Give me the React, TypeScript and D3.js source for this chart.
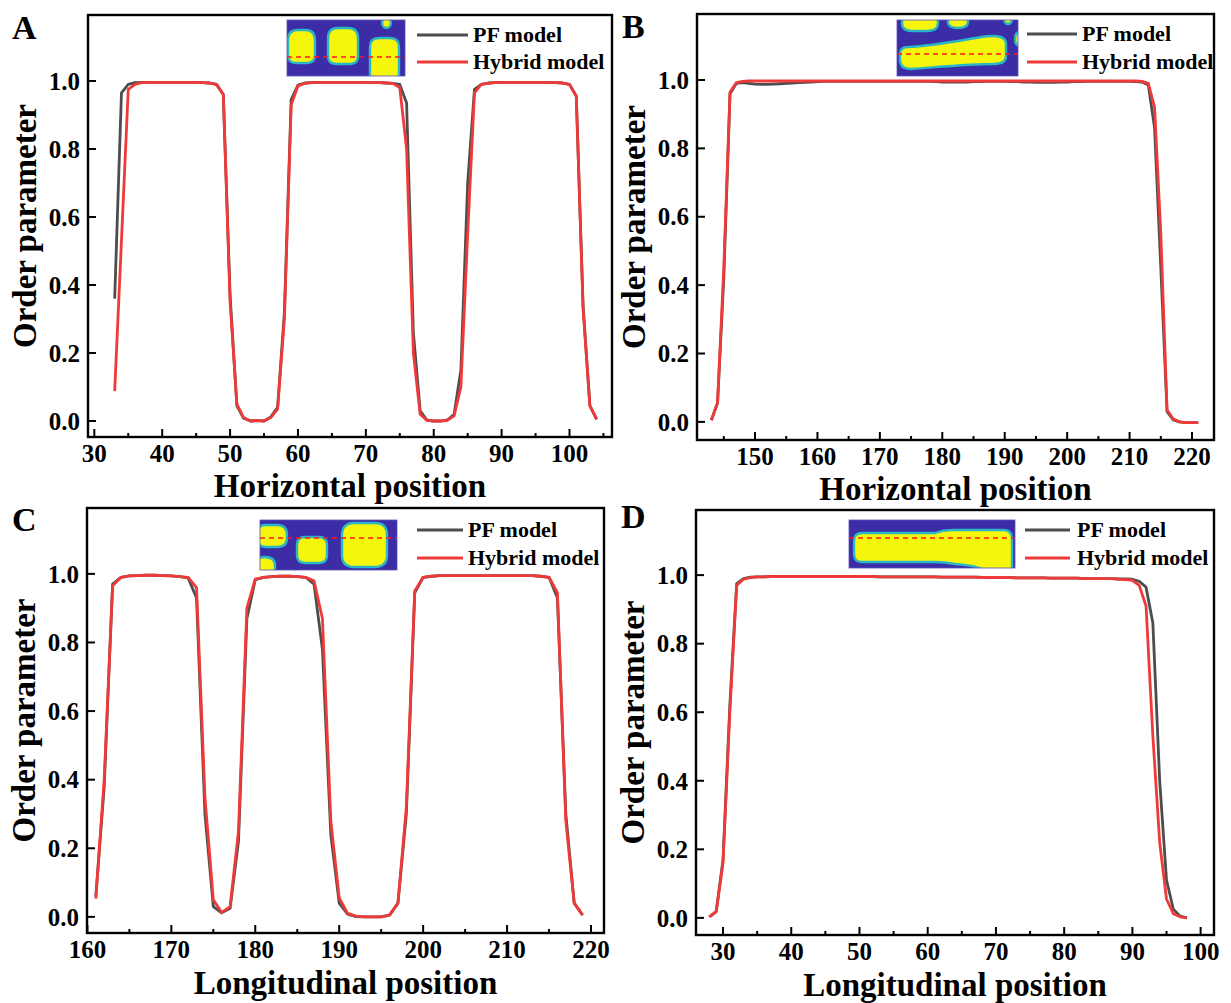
import React from "react";
import * as d3 from "d3";

// ---------------- DATA ----------------
const A_X0 = 33;
const A_PF = [
  0.36, 0.965, 0.99, 0.995, 0.996, 0.996, 0.996, 0.996, 0.996, 0.996,
  0.996, 0.996, 0.996, 0.995, 0.994, 0.99, 0.96, 0.37, 0.045, 0.008,
  0.0, 0.001, 0.0, 0.012, 0.04, 0.32, 0.945, 0.988, 0.994, 0.995,
  0.996, 0.996, 0.996, 0.996, 0.996, 0.996, 0.996, 0.996, 0.995, 0.995,
  0.994, 0.993, 0.99, 0.935, 0.26, 0.03, 0.003, 0.0, 0.0, 0.003,
  0.02, 0.15, 0.7, 0.975, 0.99, 0.994, 0.995, 0.996, 0.996, 0.996,
  0.996, 0.996, 0.996, 0.996, 0.995, 0.995, 0.994, 0.99, 0.955, 0.34,
  0.045, 0.005,
];
const A_HY = [
  0.088, 0.53, 0.975, 0.99, 0.995, 0.996, 0.996, 0.996, 0.996, 0.996,
  0.996, 0.996, 0.996, 0.995, 0.994, 0.99, 0.96, 0.35, 0.05, 0.01,
  0.0, 0.002, 0.0, 0.01, 0.035, 0.3, 0.93, 0.985, 0.993, 0.995,
  0.996, 0.996, 0.996, 0.996, 0.996, 0.996, 0.996, 0.996, 0.995, 0.995,
  0.994, 0.993, 0.98, 0.8, 0.2, 0.02, 0.002, 0.0, 0.0, 0.002,
  0.015, 0.1, 0.55, 0.965, 0.99, 0.993, 0.995, 0.996, 0.996, 0.996,
  0.996, 0.996, 0.996, 0.996, 0.995, 0.995, 0.994, 0.99, 0.955, 0.33,
  0.045, 0.005,
];

const B_X0 = 143;
const B_PF = [
  0.005, 0.055, 0.42, 0.96, 0.99, 0.992, 0.99, 0.988, 0.987, 0.987,
  0.988, 0.989, 0.99, 0.991, 0.992, 0.993, 0.994, 0.995, 0.996, 0.996,
  0.996, 0.996, 0.996, 0.996, 0.996, 0.996, 0.996, 0.996, 0.996, 0.996,
  0.996, 0.996, 0.996, 0.996, 0.996, 0.996, 0.995, 0.994, 0.994, 0.994,
  0.994, 0.994, 0.995, 0.995, 0.996, 0.996, 0.996, 0.996, 0.995, 0.995,
  0.994, 0.994, 0.993, 0.993, 0.993, 0.993, 0.994, 0.994, 0.995, 0.995,
  0.996, 0.996, 0.996, 0.996, 0.996, 0.996, 0.996, 0.996, 0.995, 0.994,
  0.985, 0.86, 0.45, 0.03, 0.006, 0.0, -0.002, -0.002, -0.002,
];
const B_HY = [
  0.005, 0.055, 0.45, 0.965, 0.992, 0.996, 0.997, 0.997, 0.997, 0.997,
  0.997, 0.997, 0.997, 0.997, 0.997, 0.997, 0.997, 0.997, 0.997, 0.997,
  0.997, 0.997, 0.997, 0.997, 0.997, 0.997, 0.997, 0.997, 0.997, 0.997,
  0.997, 0.997, 0.997, 0.997, 0.997, 0.997, 0.997, 0.997, 0.997, 0.997,
  0.997, 0.997, 0.997, 0.997, 0.997, 0.997, 0.997, 0.997, 0.997, 0.997,
  0.997, 0.997, 0.997, 0.997, 0.997, 0.997, 0.997, 0.997, 0.997, 0.997,
  0.997, 0.997, 0.997, 0.997, 0.997, 0.997, 0.997, 0.997, 0.997, 0.996,
  0.99, 0.92, 0.55, 0.035, 0.008, 0.0, -0.002, -0.002, -0.002,
];

const C_X0 = 161;
const C_PF = [
  0.06, 0.38, 0.97, 0.99, 0.994, 0.995, 0.996, 0.996, 0.995, 0.994,
  0.992, 0.988, 0.93, 0.3, 0.03, 0.012, 0.025, 0.22, 0.87, 0.983,
  0.99, 0.992, 0.993, 0.993, 0.992, 0.99, 0.97, 0.78, 0.24, 0.04,
  0.008, 0.001, 0.0, 0.0, 0.0, 0.005, 0.04, 0.3, 0.945, 0.99,
  0.993, 0.995, 0.995, 0.995, 0.995, 0.995, 0.995, 0.995, 0.995, 0.995,
  0.995, 0.995, 0.995, 0.993, 0.99, 0.93, 0.3, 0.04, 0.005,
];
const C_HY = [
  0.053, 0.4, 0.965, 0.99, 0.994, 0.995, 0.996, 0.996, 0.995, 0.994,
  0.992, 0.99, 0.96, 0.35, 0.05, 0.013, 0.03, 0.25, 0.9, 0.985,
  0.99, 0.992, 0.993, 0.993, 0.992, 0.99, 0.98, 0.87, 0.28, 0.055,
  0.01, 0.002, 0.0, 0.0, 0.0, 0.005, 0.04, 0.32, 0.95, 0.99,
  0.993, 0.995, 0.995, 0.995, 0.995, 0.995, 0.995, 0.995, 0.995, 0.995,
  0.995, 0.995, 0.995, 0.993, 0.99, 0.945, 0.28, 0.04, 0.005,
];

const D_X0 = 28;
const D_PF = [
  0.003, 0.018, 0.17, 0.62, 0.975, 0.99, 0.994, 0.995, 0.995, 0.996,
  0.996, 0.996, 0.996, 0.996, 0.996, 0.996, 0.996, 0.996, 0.996, 0.996,
  0.996, 0.996, 0.996, 0.996, 0.996, 0.995, 0.995, 0.995, 0.995, 0.995,
  0.995, 0.995, 0.995, 0.995, 0.994, 0.994, 0.994, 0.994, 0.994, 0.994,
  0.993, 0.993, 0.993, 0.993, 0.993, 0.992, 0.992, 0.992, 0.992, 0.992,
  0.991, 0.991, 0.991, 0.991, 0.991, 0.99, 0.99, 0.99, 0.99, 0.99,
  0.989, 0.989, 0.988, 0.982, 0.965, 0.86, 0.4, 0.11, 0.025, 0.005, 0.0,
];
const D_HY = [
  0.003, 0.018, 0.16, 0.6, 0.97, 0.988, 0.993, 0.995, 0.995, 0.996,
  0.996, 0.996, 0.996, 0.996, 0.996, 0.996, 0.996, 0.996, 0.996, 0.996,
  0.996, 0.996, 0.996, 0.996, 0.996, 0.995, 0.995, 0.995, 0.995, 0.995,
  0.995, 0.995, 0.995, 0.995, 0.994, 0.994, 0.994, 0.994, 0.994, 0.994,
  0.993, 0.993, 0.993, 0.993, 0.993, 0.992, 0.992, 0.992, 0.992, 0.992,
  0.991, 0.991, 0.991, 0.991, 0.991, 0.99, 0.99, 0.99, 0.99, 0.99,
  0.988, 0.987, 0.985, 0.97, 0.91, 0.53, 0.22, 0.055, 0.012, 0.003, 0.0,
];

const Y_TICKS = [0.0, 0.2, 0.4, 0.6, 0.8, 1.0];
const A_TICKS = [30, 40, 50, 60, 70, 80, 90, 100];
const B_TICKS = [150, 160, 170, 180, 190, 200, 210, 220];
const C_TICKS = [160, 170, 180, 190, 200, 210, 220];
const D_TICKS = [30, 40, 50, 60, 70, 80, 90, 100];
const SERIES_NAMES = ["PF model", "Hybrid model"];

// ---------------- LAYOUT ----------------
const FONT = "'Liberation Serif', 'Times New Roman', serif";
const GRAY = "#4d4d4d";
const RED = "#f03a3a";
const BG = "#3c2da6";
const YEL = "#f6f60c";
const EDGE = "#2ab6c6";
const TICK_FS = 25;

type Blob = { d: string };

const panels = [
  {
    letter: "A", lx: 12, ly: 39,
    frame: { l: 88, r: 612, t: 15, b: 437 },
    xd: [29.07, 106.26], yd: [-0.047, 1.194],
    ticks: A_TICKS, minorStep: 5,
    x0: A_X0, pf: A_PF, hy: A_HY,
    title: "Horizontal position", titleY: 497,
    legend: { x1: 417, x2: 468, tx: 473, y1: 35, y2: 62 },
    inset: {
      x: 287, y: 20, w: 118, h: 56, dash: 37,
      blobs: [
        { d: "M1,20 Q1,10 11,10 L18,10 Q28,10 28,20 L28,35 Q28,43 20,43 L9,43 Q1,43 1,35 Z" },
        { d: "M41,18 Q41,8 51,8 L61,8 Q71,8 71,18 L71,36 Q71,44 63,44 L49,44 Q41,44 41,36 Z" },
        { d: "M83,27 Q83,18 92,18 L103,18 Q112,18 112,27 L112,62 L83,62 Z" },
        { d: "M95,3 A4.5,5 0 1,0 104,3 A4.5,5 0 1,0 95,3 Z" },
      ] as Blob[],
    },
  },
  {
    letter: "B", lx: 622, ly: 38,
    frame: { l: 697, r: 1214, t: 14, b: 440 },
    xd: [140.71, 223.52], yd: [-0.053, 1.193],
    ticks: B_TICKS, minorStep: 5,
    x0: B_X0, pf: B_PF, hy: B_HY,
    title: "Horizontal position", titleY: 500,
    legend: { x1: 1027, x2: 1077, tx: 1082, y1: 34, y2: 62 },
    inset: {
      x: 897, y: 20, w: 121, h: 56, dash: 34,
      blobs: [
        { d: "M5,-2 L41,-2 L41,3 Q41,11 30,11 L15,11 Q5,11 5,3 Z" },
        { d: "M51,-2 L71,-2 L71,2 Q71,8 61,8 Q51,8 51,2 Z" },
        { d: "M107,-2 L115,-2 Q115,4 111,4 Q107,4 107,-2 Z" },
        { d: "M11,27 C35,26 60,21 84,17 Q109,13 109,24 L109,36 Q109,44 97,44 C72,44 42,47 14,49 Q3,49 3,40 L3,34 Q3,27 11,27 Z" },
        { d: "M118,19 Q118,12 123,12 L123,26 Q118,26 118,19 Z" },
      ] as Blob[],
    },
  },
  {
    letter: "C", lx: 12, ly: 531,
    frame: { l: 87, r: 604, t: 508, b: 933 },
    xd: [159.95, 221.55], yd: [-0.047, 1.192],
    ticks: C_TICKS, minorStep: 5,
    x0: C_X0, pf: C_PF, hy: C_HY,
    title: "Longitudinal position", titleY: 994,
    legend: { x1: 417, x2: 463, tx: 468, y1: 530, y2: 558 },
    inset: {
      x: 260, y: 520, w: 137, h: 50, dash: 18,
      blobs: [
        { d: "M-2,12 Q-2,5 6,5 L17,5 Q27,5 27,15 L27,18 Q27,27 17,27 L6,27 Q-2,27 -2,20 Z" },
        { d: "M-2,40 Q-2,37 4,37 Q15,37 15,45 L15,52 L-2,52 Z" },
        { d: "M37,25 Q37,17 45,17 L59,17 Q67,17 67,25 L67,35 Q67,43 59,43 L45,43 Q37,43 37,35 Z" },
        { d: "M82,15 Q82,3 94,3 L115,3 Q127,3 127,15 L127,35 Q127,47 115,47 L94,47 Q82,47 82,35 Z" },
      ] as Blob[],
    },
  },
  {
    letter: "D", lx: 621, ly: 528,
    frame: { l: 696, r: 1214, t: 510, b: 935 },
    xd: [26.04, 101.96], yd: [-0.05, 1.19],
    ticks: D_TICKS, minorStep: 5,
    x0: D_X0, pf: D_PF, hy: D_HY,
    title: "Longitudinal position", titleY: 996,
    legend: { x1: 1025, x2: 1070, tx: 1077, y1: 530, y2: 558 },
    inset: {
      x: 849, y: 520, w: 166, h: 48, dash: 18,
      blobs: [
        { d: "M13,13 L86,13 Q94,10 103,10 L155,10 Q163,10 163,19 L163,52 L140,52 Q126,45 106,44 Q95,42 86,42 L13,42 Q5,42 5,34 L5,21 Q5,13 13,13 Z" },
      ] as Blob[],
    },
  },
];

function Panel({ p, idx }: { p: (typeof panels)[number]; idx: number }) {
  const { frame } = p;
  const x = d3.scaleLinear().domain(p.xd).range([frame.l, frame.r]);
  const y = d3.scaleLinear().domain(p.yd).range([frame.b, frame.t]);
  const line = d3
    .line<number>()
    .x((_, i) => x(p.x0 + i))
    .y((v) => y(v));
  const minor: number[] = [];
  for (let v = Math.ceil(p.xd[0] / p.minorStep) * p.minorStep; v <= p.xd[1]; v += p.minorStep) {
    if (!p.ticks.includes(v)) minor.push(v);
  }
  const ins = p.inset;
  const clipId = `clip-inset-${idx}`;
  const cy = (frame.t + frame.b) / 2;
  const cx = (frame.l + frame.r) / 2;
  return (
    <g>
      <text x={p.lx} y={p.ly} fontFamily={FONT} fontWeight="bold" fontSize={34} fill="#000">
        {p.letter}
      </text>
      {/* curves */}
      <path d={line(p.pf) || ""} fill="none" stroke={GRAY} strokeWidth={2.8} strokeLinejoin="round" />
      <path d={line(p.hy) || ""} fill="none" stroke={RED} strokeWidth={2.8} strokeLinejoin="round" />
      {/* frame */}
      <rect x={frame.l} y={frame.t} width={frame.r - frame.l} height={frame.b - frame.t} fill="none" stroke="#000" strokeWidth={2.4} />
      {/* x ticks */}
      {p.ticks.map((t) => (
        <g key={`xt${t}`}>
          <line x1={x(t)} x2={x(t)} y1={frame.b} y2={frame.b - 8} stroke="#000" strokeWidth={2} />
          <text x={x(t)} y={frame.b + 25} textAnchor="middle" fontFamily={FONT} fontWeight="bold" fontSize={TICK_FS}>
            {t}
          </text>
        </g>
      ))}
      {minor.map((t) => (
        <line key={`mt${t}`} x1={x(t)} x2={x(t)} y1={frame.b} y2={frame.b - 4} stroke="#000" strokeWidth={2} />
      ))}
      {/* y ticks */}
      {Y_TICKS.map((t) => (
        <g key={`yt${t}`}>
          <line x1={frame.l} x2={frame.l + 8} y1={y(t)} y2={y(t)} stroke="#000" strokeWidth={2} />
          <text x={frame.l - 8} y={y(t)} dy="0.35em" textAnchor="end" fontFamily={FONT} fontWeight="bold" fontSize={TICK_FS}>
            {t.toFixed(1)}
          </text>
        </g>
      ))}
      {/* titles */}
      <text x={cx} y={p.titleY} textAnchor="middle" fontFamily={FONT} fontWeight="bold" fontSize={33}>
        {p.title}
      </text>
      <text
        transform={`translate(${frame.l - 52},${cy}) rotate(-90)`}
        textAnchor="middle"
        fontFamily={FONT}
        fontWeight="bold"
        fontSize={33}
      >
        Order parameter
      </text>
      {/* inset image */}
      <g transform={`translate(${ins.x},${ins.y})`}>
        <clipPath id={clipId}>
          <rect x={0} y={0} width={ins.w} height={ins.h} />
        </clipPath>
        <g clipPath={`url(#${clipId})`}>
          <rect x={0} y={0} width={ins.w} height={ins.h} fill={BG} />
          <g filter="url(#soft)">
            {ins.blobs.map((b, i) => (
              <path key={i} d={b.d} fill={YEL} stroke={EDGE} strokeWidth={2.4} />
            ))}
          </g>
          <line x1={0} x2={ins.w} y1={ins.dash} y2={ins.dash} stroke="#ff1a1a" strokeWidth={1.6} strokeDasharray="5,4" />
        </g>
        <rect x={0} y={0} width={ins.w} height={ins.h} fill="none" stroke="#5a52b8" strokeWidth={0.8} />
      </g>
      {/* legend */}
      <line x1={p.legend.x1} x2={p.legend.x2} y1={p.legend.y1} y2={p.legend.y1} stroke={GRAY} strokeWidth={3} />
      <text x={p.legend.tx} y={p.legend.y1} dy="0.33em" fontFamily={FONT} fontWeight="bold" fontSize={22}>
        {SERIES_NAMES[0]}
      </text>
      <line x1={p.legend.x1} x2={p.legend.x2} y1={p.legend.y2} y2={p.legend.y2} stroke={RED} strokeWidth={3} />
      <text x={p.legend.tx} y={p.legend.y2} dy="0.33em" fontFamily={FONT} fontWeight="bold" fontSize={22}>
        {SERIES_NAMES[1]}
      </text>
    </g>
  );
}

export default function App() {
  return (
    <svg width={1231} height={1003} style={{ display: "block", position: "absolute", left: 0, top: 0, background: "#fff" }}>
      <defs>
        <filter id="soft" x="-10%" y="-10%" width="120%" height="120%">
          <feGaussianBlur stdDeviation="0.7" />
        </filter>
      </defs>
      <rect x={0} y={0} width={1231} height={1003} fill="#fff" />
      {panels.map((p, i) => (
        <Panel key={p.letter} p={p} idx={i} />
      ))}
    </svg>
  );
}
